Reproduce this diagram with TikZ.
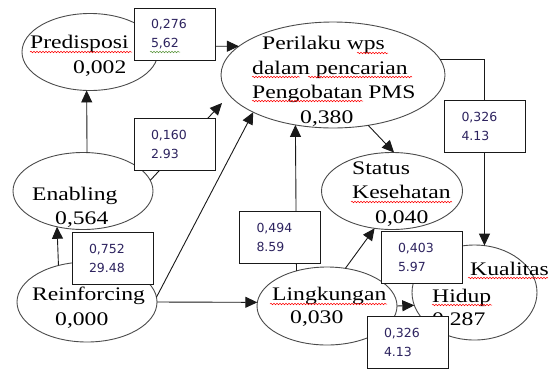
\documentclass[tikz,border=0pt]{standalone}
\usepackage{fontspec}
\setmainfont{Liberation Serif}[FakeStretch=1.23]
\newfontfamily\boxfont{DejaVu Sans}
\usetikzlibrary{shapes.geometric,arrows.meta,decorations.pathmorphing}
\definecolor{boxtext}{RGB}{45,35,95}
\definecolor{linec}{RGB}{25,25,25}
\definecolor{ellc}{RGB}{75,75,75}
\definecolor{spellgreen}{RGB}{90,150,60}
\begin{document}
\begin{tikzpicture}[x=1pt,y=-1pt,
 ell/.style={ellipse,draw=ellc,line width=0.9pt,inner sep=0pt,outer sep=0pt},
 lbl/.style={font=\fontsize{19.2}{25}\selectfont,inner sep=0pt,anchor=base west},
 valbox/.style={rectangle,draw=linec,fill=white,line width=0.9pt,minimum width=81pt,minimum height=52pt,text width=47pt,inner xsep=17pt,align=left,font=\boxfont\fontsize{12.5}{19}\selectfont,text=boxtext},
 arr/.style={draw=linec,line width=0.9pt,-{Triangle[length=12pt,width=11pt]}},
 spell/.style={draw=red,line width=0.5pt,decorate,decoration={snake,amplitude=0.8pt,segment length=3pt}}]
\fill[white] (0,0) rectangle (553,370);
\useasboundingbox (0,0) rectangle (553,370);

% ellipses
\node[ell,minimum width=136pt,minimum height=77pt] (pred) at (90,52) {};
\node[ell,minimum width=224pt,minimum height=106pt] (peri) at (333,75) {};
\node[ell,minimum width=140pt,minimum height=77pt] (enab) at (83,191) {};
\node[ell,minimum width=140pt,minimum height=80pt] (rein) at (87,302) {};
\node[ell,minimum width=140pt,minimum height=78pt] (ling) at (327,306) {};
\node[ell,minimum width=141pt,minimum height=77pt] (stat) at (392,191) {};
\node[ell,minimum width=125pt,minimum height=95pt] (kual) at (474.5,292.5) {};

% texts
\node[lbl] (tpredA) at (30,48) {Predisposi};
\node[lbl] (tpredB) at (73,73) {0,002};
\node[lbl] (tperiA) at (262,49) {Perilaku wps};
\node[lbl] (tperiB) at (252,74) {dalam pencarian};
\node[lbl] (tperiC) at (252,98) {Pengobatan PMS};
\node[lbl] (tperiD) at (300,123) {0,380};
\node[lbl] (tenabA) at (32,200) {Enabling};
\node[lbl] (tenabB) at (55,224) {0,564};
\node[lbl] (treinA) at (32,300) {Reinforcing};
\node[lbl] (treinB) at (55,325) {0,000};
\node[lbl] (tstatA) at (352,174) {Status};
\node[lbl] (tstatB) at (352,198) {Kesehatan};
\node[lbl] (tstatC) at (375,223) {0,040};
\node[lbl] (tlingA) at (272,300) {Lingkungan};
\node[lbl] (tlingB) at (290,323) {0,030};
\node[lbl] (tkualA) at (470,275) {Kualitas};
\node[lbl] (tkualB) at (432,302) {Hidup};
\node[lbl] (tkualC) at (432,325) {0,287};

% connectors
\coordinate (e2p) at (222,103);
\draw[arr] (pred.5) -- (peri.163);
\draw[arr] (enab.84) -- (pred.265.5);
\draw[arr] (rein.128.5) -- (enab.234.8);
\draw[arr] (enab.9) -- (e2p);
\draw[arr] (rein.4) -- (peri.205);
\draw[arr] (rein.0) -- (ling.177);
\draw[arr] (ling.131.5) -- (peri.233.5);
\draw[arr] (ling.64.7) -- (stat.245);
\draw[arr] (peri.305) -- (stat.87);
\draw[arr] (peri.8) -| (kual.78);
\draw[arr] (ling.0) -- (kual.192);

% value boxes
\node[valbox] (b1) at (174.5,34.5) {0,276\\5,62};
\node[valbox] (b2) at (174.5,144) {0,160\\2.93};
\node[valbox] (b3) at (112.5,258.5) {0,752\\29.48};
\node[valbox] (b4) at (280,237) {0,494\\8.59};
\node[valbox] (b5) at (485,126) {0,326\\4.13};
\node[valbox] (b6) at (421.5,257.5) {0,403\\5.97};
\node[valbox] (b7) at (407.5,342) {0,326\\4.13};

% spell-check underlines
\draw[spell] (30,52) -- (132,52);
\draw[spell] (357,53) -- (388,53);
\draw[spell] (252,77) -- (300,77);
\draw[spell] (308,77) -- (412,77);
\draw[spell] (252,101) -- (363,101);
\draw[spell] (351,202) -- (452,202);
\draw[spell] (270,304) -- (387,304);
\draw[spell] (468,278) -- (548,278);
\draw[spell] (432,305) -- (492,305);
\draw[spell,draw=spellgreen] (150,52) -- (180,52);
\end{tikzpicture}
\end{document}
